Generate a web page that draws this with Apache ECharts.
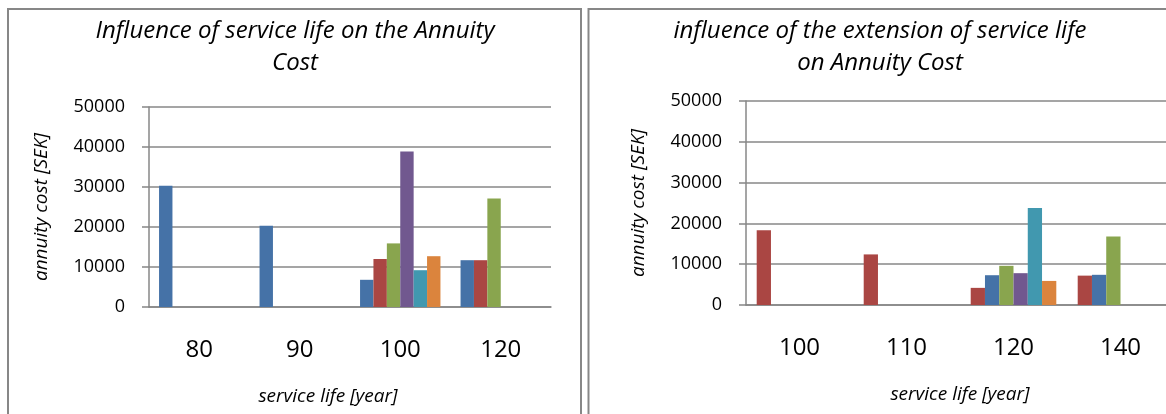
<!DOCTYPE html>
<html>
<head>
<meta charset="utf-8">
<title>Annuity cost vs service life</title>
<script src="https://cdn.jsdelivr.net/npm/echarts@6/dist/echarts.min.js"></script>
<style>
  html, body { margin: 0; padding: 0; background: #fff; }
  #chart { width: 1166px; height: 414px; }
</style>
</head>
<body>
<div id="chart"></div>
<script>
// left panel: influence of service life
const leftYears = ['80', '90', '100', '120'];
const leftS1 = [30300, 20300, 6800, 11700];
const leftS2 = [null, null, 12000, 11700];
const leftS3 = [null, null, 15900, 27100];
const leftS4 = [null, null, 38900, null];
const leftS5 = [null, null, 9200, null];
const leftS6 = [null, null, 12700, null];

// right panel: extension of service life
const rightYears = ['100', '110', '120', '140'];
const rightS1 = [18300, 12400, 4200, 7200];
const rightS2 = [null, null, 7300, 7400];
const rightS3 = [null, null, 9600, 16800];
const rightS4 = [null, null, 7800, null];
const rightS5 = [null, null, 23800, null];
const rightS6 = [null, null, 5900, null];

const yTicks = [0, 10000, 20000, 30000, 40000, 50000];

const BLUE = '#4572A7', RED = '#AA4643', GREEN = '#89A54E',
      PURPLE = '#71588F', TEAL = '#4198AF', ORANGE = '#DB843D';
const GRID_GRAY = '#878787';
const FONT = "'Open Sans', 'Noto Sans', sans-serif";

const leftSeries = [
  {data: leftS1, color: BLUE},
  {data: leftS2, color: RED},
  {data: leftS3, color: GREEN},
  {data: leftS4, color: PURPLE},
  {data: leftS5, color: TEAL},
  {data: leftS6, color: ORANGE}
];
const rightSeries = [
  {data: rightS1, color: RED},
  {data: rightS2, color: BLUE},
  {data: rightS3, color: GREEN},
  {data: rightS4, color: PURPLE},
  {data: rightS5, color: TEAL},
  {data: rightS6, color: ORANGE}
];

function makeX(idx, cats) {
  return {
    type: 'category',
    gridIndex: idx,
    data: cats,
    axisTick: {show: false},
    axisLine: {lineStyle: {color: GRID_GRAY, width: 1.5}},
    axisLabel: {color: '#000', fontFamily: FONT, fontSize: 24, margin: 31},
    name: 'service life [year]',
    nameLocation: 'middle',
    nameGap: 80,
    nameMoveOverlap: false,
    nameTextStyle: {
      color: '#000', fontFamily: FONT, fontSize: 19, fontStyle: 'italic',
      padding: idx === 0 ? [0, 44, 0, 0] : 0
    }
  };
}

function makeY(idx) {
  return {
    type: 'value',
    gridIndex: idx,
    min: yTicks[0],
    max: yTicks[yTicks.length - 1],
    interval: yTicks[1] - yTicks[0],
    axisLine: {show: true, lineStyle: {color: GRID_GRAY, width: 1.5}},
    axisTick: {show: true, length: 7, lineStyle: {color: GRID_GRAY, width: 1.5}},
    splitLine: {lineStyle: {color: GRID_GRAY, width: 1.5}},
    axisLabel: {
      color: '#000', fontFamily: FONT, fontSize: 18, margin: 24,
      formatter: v => String(v)
    },
    name: 'annuity cost [SEK]',
    nameLocation: 'middle',
    nameGap: 98,
    nameMoveOverlap: false,
    nameRotate: 90,
    nameTextStyle: {color: '#000', fontFamily: FONT, fontSize: 19, fontStyle: 'italic'}
  };
}

function bars(list, idx) {
  return list.map((s, i) => ({
    name: 'Series ' + (i + 1),
    type: 'bar',
    xAxisIndex: idx,
    yAxisIndex: idx,
    data: s.data,
    barGap: '0%',
    barCategoryGap: '20%',
    itemStyle: {color: s.color},
    emphasis: {disabled: true}
  }));
}

const chart = echarts.init(document.getElementById('chart'), null, {renderer: 'canvas'});
chart.setOption({
  backgroundColor: '#fff',
  animation: false,
  title: [
    {
      text: 'Influence of service life on the Annuity\nCost',
      left: 295, top: 15, padding: 0, textAlign: 'center',
      textStyle: {color: '#000', fontFamily: FONT, fontSize: 24, fontStyle: 'italic', fontWeight: 'normal', lineHeight: 32}
    },
    {
      text: 'influence of the extension of service life\non Annuity Cost',
      left: 880, top: 15, padding: 0, textAlign: 'center',
      textStyle: {color: '#000', fontFamily: FONT, fontSize: 24, fontStyle: 'italic', fontWeight: 'normal', lineHeight: 32}
    }
  ],
  graphic: [
    {type: 'rect', shape: {x: 8, y: 9, width: 573, height: 420}, style: {fill: null, stroke: GRID_GRAY, lineWidth: 2}, z: -1},
    {type: 'rect', shape: {x: 588.5, y: 9, width: 600, height: 420}, style: {fill: null, stroke: GRID_GRAY, lineWidth: 2}, z: -1}
  ],
  grid: [
    {left: 149, top: 107, width: 402, height: 200, outerBoundsMode: 'none'},
    {left: 746, top: 101, width: 428, height: 204, outerBoundsMode: 'none'}
  ],
  xAxis: [makeX(0, leftYears), makeX(1, rightYears)],
  yAxis: [makeY(0), makeY(1)],
  series: bars(leftSeries, 0).concat(bars(rightSeries, 1))
});
</script>
</body>
</html>
